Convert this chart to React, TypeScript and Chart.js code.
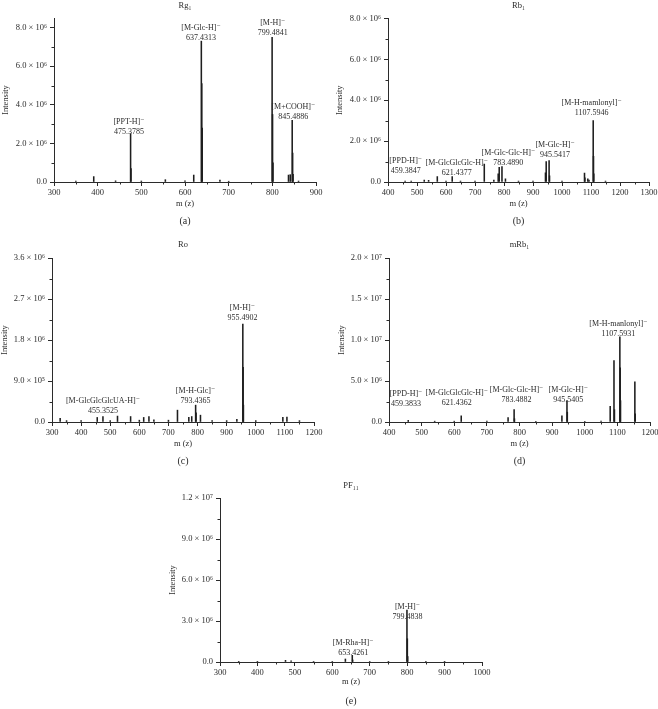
import { useEffect, useRef } from "react";
import { Chart, registerables } from "chart.js";

Chart.register(...registerables);

// ---- spectra (m/z, intensity) ----
const rg1Mz = [350, 391, 441, 475.4, 476.4, 500, 555, 600, 620, 637.4, 638.4, 639.4, 680, 700, 799.5, 800.5, 801.5, 837, 841, 845.5, 846.5, 847.5, 860];
const rg1Int = [0.05e6, 0.28e6, 0.06e6, 2.5e6, 0.7e6, 0.05e6, 0.12e6, 0.06e6, 0.36e6, 7.3e6, 5.1e6, 2.8e6, 0.1e6, 0.04e6, 7.5e6, 3.5e6, 1.0e6, 0.36e6, 0.38e6, 3.2e6, 1.5e6, 0.4e6, 0.05e6];
const rg1Ions = ["[PPT-H]⁻", "[M-Glc-H]⁻", "[M-H]⁻", "[M+COOH]⁻"];
const rg1Masses = ["475.3785", "637.4313", "799.4841", "845.4886"];
const rg1IonAt = [[471.7, 2.61e6], [636.6, 7.46e6], [800.8, 7.72e6], [848, 3.36e6]];
const rg1YTicks = [0, 2e6, 4e6, 6e6, 8e6];

const rb1Mz = [459, 480, 525, 540, 570, 600, 621.4, 650, 700, 732, 765, 780, 783.5, 793, 805, 850, 900, 943, 945.5, 955.5, 957, 1000, 1077.6, 1079, 1089, 1093, 1107.6, 1108.6, 1109.6, 1150];
const rb1Int = [0.05e6, 0.04e6, 0.1e6, 0.08e6, 0.26e6, 0.05e6, 0.26e6, 0.05e6, 0.04e6, 0.88e6, 0.1e6, 0.4e6, 0.72e6, 0.75e6, 0.15e6, 0.04e6, 0.04e6, 0.45e6, 1.0e6, 1.05e6, 0.3e6, 0.04e6, 0.44e6, 0.2e6, 0.15e6, 0.1e6, 3.0e6, 1.25e6, 0.4e6, 0.04e6];
const rb1Ions = ["[PPD-H]⁻", "[M-GlcGlcGlc-H]⁻", "[M-Glc-Glc-H]⁻", "[M-Glc-H]⁻", "[M-H-mamlonyl]⁻"];
const rb1Masses = ["459.3847", "621.4377", "783.4890", "945.5417", "1107.5946"];
const rb1IonAt = [[461, 0.56e6], [637, 0.46e6], [815, 0.92e6], [976, 1.33e6], [1102, 3.38e6]];
const rb1YTicks = [0, 2e6, 4e6, 6e6, 8e6];

const roMz = [328, 350, 400, 455.4, 475, 500, 525, 570, 600, 615, 633, 650, 700, 731, 770, 780, 793.4, 795, 810, 850, 900, 935, 955.5, 956.5, 957.5, 1000, 1093, 1107, 1150];
const roInt = [0.08e6, 0.03e6, 0.03e6, 0.1e6, 0.12e6, 0.03e6, 0.13e6, 0.12e6, 0.04e6, 0.1e6, 0.12e6, 0.05e6, 0.04e6, 0.26e6, 0.1e6, 0.12e6, 0.37e6, 0.2e6, 0.15e6, 0.03e6, 0.03e6, 0.06e6, 2.15e6, 1.2e6, 0.37e6, 0.03e6, 0.1e6, 0.11e6, 0.03e6];
const roIons = ["[M-GlcGlcGlcUA-H]⁻", "[M-H-Glc]⁻", "[M-H]⁻"];
const roMasses = ["455.3525", "793.4365", "955.4902"];
const roIonAt = [[475, 0.236e6], [793, 0.463e6], [954, 2.28e6]];
const roYTicks = [0, 0.9e6, 1.8e6, 2.7e6, 3.6e6];

const mrb1Mz = [459, 540, 600, 621.4, 700, 765, 783.5, 784.5, 850, 930, 945.5, 946.5, 1000, 1050, 1078, 1089.6, 1091, 1107.6, 1108.6, 1109.6, 1153.6, 1154.6];
const mrb1Int = [0.2e6, 0.1e6, 0.1e6, 0.75e6, 0.1e6, 0.55e6, 1.5e6, 0.4e6, 0.05e6, 0.75e6, 2.6e6, 1.2e6, 0.05e6, 0.1e6, 1.9e6, 7.5e6, 1.5e6, 10.4e6, 6.6e6, 2.6e6, 4.9e6, 1.0e6];
const mrb1Ions = ["[PPD-H]⁻", "[M-GlcGlcGlc-H]⁻", "[M-Glc-Glc-H]⁻", "[M-Glc-H]⁻", "[M-H-manlonyl]⁻"];
const mrb1Masses = ["459.3833", "621.4362", "783.4882", "945.5405", "1107.5931"];
const mrb1IonAt = [[452, 2.17e6], [607.5, 2.3e6], [791, 2.66e6], [949.5, 2.72e6], [1103, 10.8e6]];
const mrb1YTicks = [0, 5e6, 1e7, 1.5e7, 2e7];

const pf11Mz = [350, 400, 475, 490, 550, 600, 635, 653.4, 654.4, 700, 750, 799.5, 800.5, 801.5, 850, 900];
const pf11Int = [0.02e6, 0.02e6, 0.12e6, 0.08e6, 0.03e6, 0.03e6, 0.22e6, 0.49e6, 0.15e6, 0.03e6, 0.02e6, 3.8e6, 1.7e6, 0.4e6, 0.02e6, 0.02e6];
const pf11Ions = ["[M-Rha-H]⁻", "[M-H]⁻"];
const pf11Masses = ["653.4261", "799.4838"];
const pf11IonAt = [[655.7, 0.66e6], [800.8, 3.31e6]];
const pf11YTicks = [0, 3e6, 6e6, 9e6, 1.2e7];

const FONT = "'Liberation Serif', 'DejaVu Serif', serif";
const INK = "#2b2b2b";
const SUP: Record<string, string> = {
  "0": "⁰", "1": "¹", "2": "²", "3": "³", "4": "⁴",
  "5": "⁵", "6": "⁶", "7": "⁷", "8": "⁸", "9": "⁹", "-": "⁻",
};

function sci(v: number): string {
  if (v === 0) return "0.0";
  const [m, e] = v.toExponential(1).split("e");
  const exp = String(Number(e)).split("").map((c) => SUP[c]).join("");
  return `${m} × 10${exp}`;
}

interface PanelProps {
  title: string;
  sub: string;
  mz: number[];
  intensity: number[];
  ions: string[];
  masses: string[];
  ionAt: number[][];
  xMin: number;
  xMax: number;
  yMax: number;
  yTicks: number[];
  // page geometry
  box: [number, number, number, number];
  plot: [number, number, number, number];
  titleY: number;
  xTitleY: number;
  subY: number;
  yTitleX: number;
}

function SpectrumPanel(p: PanelProps) {
  const canvasRef = useRef<HTMLCanvasElement>(null);
  const chartRef = useRef<Chart | null>(null);
  const [cx, cy, cw, ch] = p.box;

  useEffect(() => {
    if (!canvasRef.current) return;
    chartRef.current?.destroy();

    const [L, T, R, B] = p.plot;
    const l = L - cx, t = T - cy, r = R - cx, b = B - cy;
    const smallLH = 8.5 * 1.2;
    const subLH = 10 * 1.2;
    const titleTop = p.titleY - cy - smallLH / 2;
    const titleBottom = t - titleTop - smallLH;
    const xH = p.xTitleY - cy - b + smallLH / 2;
    const subTop = p.subY - cy - b - xH - subLH / 2;
    const padBottom = ch - b - xH - (subTop + subLH);
    const font = { family: FONT, size: 8.5, weight: "normal" as const, lineHeight: 1.2 };

    // small ticks between the labelled ones
    const minorTicks = {
      id: "minorTicks",
      afterDraw(chart: Chart) {
        const { ctx, chartArea } = chart;
        const xs = chart.scales.x;
        const ys = chart.scales.y;
        const yStep = p.yTicks[1] - p.yTicks[0];
        ctx.save();
        ctx.strokeStyle = INK;
        ctx.lineWidth = 1;
        ctx.beginPath();
        for (let v = p.xMin + 50; v < p.xMax; v += 100) {
          const px = Math.round(xs.getPixelForValue(v)) + 0.5;
          ctx.moveTo(px, chartArea.bottom);
          ctx.lineTo(px, chartArea.bottom + 2.5);
        }
        for (let v = yStep / 2; v < p.yMax; v += yStep) {
          const py = Math.round(ys.getPixelForValue(v)) + 0.5;
          ctx.moveTo(chartArea.left, py);
          ctx.lineTo(chartArea.left - 2.5, py);
        }
        ctx.stroke();
        ctx.restore();
      },
    };

    // ion annotations, anchored in data units
    const ionLabels = {
      id: "ionLabels",
      afterDatasetsDraw(chart: Chart) {
        const { ctx } = chart;
        const xs = chart.scales.x;
        const ys = chart.scales.y;
        ctx.save();
        ctx.font = `8px ${FONT}`;
        ctx.fillStyle = INK;
        ctx.textAlign = "center";
        ctx.textBaseline = "middle";
        p.ions.forEach((ion, i) => {
          const px = xs.getPixelForValue(p.ionAt[i][0]);
          const py = ys.getPixelForValue(p.ionAt[i][1]);
          ctx.fillText(ion, px, py - 10);
          ctx.fillText(p.masses[i], px, py);
        });
        ctx.restore();
      },
    };

    chartRef.current = new Chart(canvasRef.current, {
      type: "bar",
      data: {
        datasets: [
          {
            data: p.mz.map((m, i) => ({ x: m, y: p.intensity[i] })),
            backgroundColor: "#1e1e1e",
            borderWidth: 0,
            barThickness: 0.9,
            grouped: false,
          },
        ],
      },
      options: {
        responsive: false,
        animation: false,
        events: [],
        layout: { padding: { left: 0, top: 0, right: cw - r, bottom: padBottom } },
        plugins: {
          legend: { display: false },
          tooltip: { enabled: false },
          title: {
            display: true,
            text: p.title,
            fullSize: false,
            color: INK,
            font,
            padding: { top: titleTop, bottom: titleBottom },
          },
          subtitle: {
            display: true,
            position: "bottom",
            text: p.sub,
            fullSize: false,
            color: INK,
            font: { family: FONT, size: 10, weight: "normal", lineHeight: 1.2 },
            padding: { top: subTop, bottom: 0 },
          },
        },
        scales: {
          x: {
            type: "linear",
            min: p.xMin,
            max: p.xMax,
            offset: false,
            grid: { drawOnChartArea: false, tickLength: 4, color: INK, offset: false },
            border: { color: INK },
            ticks: {
              stepSize: 100,
              autoSkip: false,
              maxRotation: 0,
              padding: 2,
              color: INK,
              font,
              callback: (v) => String(v),
            },
            title: { display: true, text: "m (z)", color: INK, font, padding: { top: 0, bottom: 0 } },
            afterFit: (s: any) => {
              s.height = xH;
              s.paddingLeft = 0;
              s.paddingRight = 0;
            },
          },
          y: {
            type: "linear",
            min: 0,
            max: p.yMax,
            grid: { drawOnChartArea: false, tickLength: 4, color: INK },
            border: { color: INK },
            ticks: { autoSkip: false, padding: 3, color: INK, font, callback: (v) => sci(Number(v)) },
            afterBuildTicks: (s: any) => {
              s.ticks = p.yTicks.map((value) => ({ value }));
            },
            title: {
              display: true,
              text: "Intensity",
              color: INK,
              font,
              padding: { top: p.yTitleX - cx - smallLH / 2, bottom: 0 },
            },
            afterFit: (s: any) => {
              s.width = l;
              s.paddingTop = 0;
              s.paddingBottom = 0;
            },
          },
        },
      },
      plugins: [minorTicks, ionLabels],
    });

    return () => {
      chartRef.current?.destroy();
      chartRef.current = null;
    };
  }, []);

  return (
    <div style={{ position: "absolute", left: cx, top: cy, width: cw, height: ch }}>
      <canvas ref={canvasRef} width={cw} height={ch} style={{ width: cw, height: ch }} />
    </div>
  );
}

export default function App() {
  return (
    <div style={{ position: "absolute", left: 0, top: 0, width: 658, height: 709, background: "#fff" }}>
      <SpectrumPanel
        title="Rg₁" sub="(a)"
        mz={rg1Mz} intensity={rg1Int} ions={rg1Ions} masses={rg1Masses} ionAt={rg1IonAt}
        xMin={300} xMax={900} yMax={8.5e6} yTicks={rg1YTicks}
        box={[0, 0, 329, 232]} plot={[54, 18, 316, 182]}
        titleY={6} xTitleY={204} subY={221} yTitleX={6}
      />
      <SpectrumPanel
        title="Rb₁" sub="(b)"
        mz={rb1Mz} intensity={rb1Int} ions={rb1Ions} masses={rb1Masses} ionAt={rb1IonAt}
        xMin={400} xMax={1300} yMax={8e6} yTicks={rb1YTicks}
        box={[329, 0, 329, 232]} plot={[388, 18.5, 649, 182]}
        titleY={6} xTitleY={204} subY={221} yTitleX={340}
      />
      <SpectrumPanel
        title="Ro" sub="(c)"
        mz={roMz} intensity={roInt} ions={roIons} masses={roMasses} ionAt={roIonAt}
        xMin={300} xMax={1200} yMax={3.6e6} yTicks={roYTicks}
        box={[0, 232, 329, 240]} plot={[52, 258, 314, 422]}
        titleY={245} xTitleY={444} subY={461} yTitleX={5}
      />
      <SpectrumPanel
        title="mRb₁" sub="(d)"
        mz={mrb1Mz} intensity={mrb1Int} ions={mrb1Ions} masses={mrb1Masses} ionAt={mrb1IonAt}
        xMin={400} xMax={1200} yMax={2e7} yTicks={mrb1YTicks}
        box={[329, 232, 329, 240]} plot={[389, 258, 650, 422]}
        titleY={245} xTitleY={444} subY={461} yTitleX={342}
      />
      <SpectrumPanel
        title="PF₁₁" sub="(e)"
        mz={pf11Mz} intensity={pf11Int} ions={pf11Ions} masses={pf11Masses} ionAt={pf11IonAt}
        xMin={300} xMax={1000} yMax={1.2e7} yTicks={pf11YTicks}
        box={[160, 472, 340, 237]} plot={[220, 498, 482, 662]}
        titleY={486} xTitleY={682} subY={701} yTitleX={173}
      />
    </div>
  );
}
